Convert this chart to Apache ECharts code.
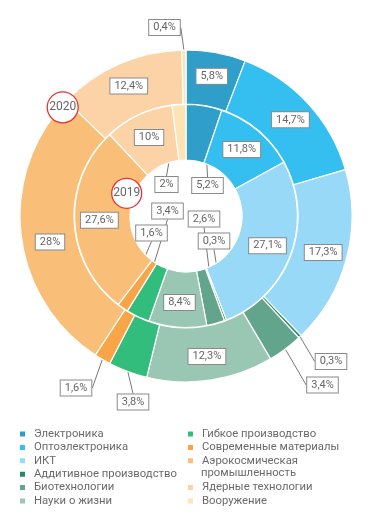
<!DOCTYPE html>
<html>
<head>
<meta charset="utf-8">
<script src="https://cdn.jsdelivr.net/npm/echarts@6/dist/echarts.min.js"></script>
<style>
html,body{margin:0;padding:0;background:#fff;}
#c{width:371px;height:523px;}
</style>
</head>
<body>
<div id="c"></div>
<script>
// ---- data ----
const categories = [
  'Электроника', 'Оптоэлектроника', 'ИКТ', 'Аддитивное производство',
  'Биотехнологии', 'Науки о жизни', 'Гибкое производство',
  'Современные материалы', 'Аэрокосмическая промышленность',
  'Ядерные технологии', 'Вооружение'
];
const values2019 = [5.2, 11.8, 27.1, 0.3, 2.6, 8.4, 3.4, 1.6, 27.6, 10, 2];
const values2020 = [5.8, 14.7, 17.3, 0.3, 3.4, 12.3, 3.8, 1.6, 28, 12.4, 0.4];
const yearLabels = ['2019', '2020'];

// ---- style ----
const colors = ['#2f9ec9', '#34bff0', '#97d9f6', '#2a8a63', '#62a58c', '#9ac6b4',
                '#33bd7d', '#f7a547', '#f9bf79', '#fcd3a6', '#fde4b5'];
const CENTER = [186, 216];
// label placements (box centres) for labels moved out of their sectors
const moved2019 = {0: [207.5, 185.5], 10: [166.5, 184.5], 6: [167.5, 211], 7: [151.5, 233], 4: [204, 219], 3: [214, 241]};
const moved2020 = {10: [164.5, 27.5], 3: [331, 361.5], 4: [322.5, 385], 6: [133, 402], 7: [76, 388], 8: [50, 242]};
const outside2019 = [0, 10, 6, 7, 4, 3];
const outside2020 = [10, 3, 4, 6, 7];

const FONT = 'Roboto';
function fmt(v) { return String(v).replace('.', ',') + '%'; }

// legend shows the aerospace name split over two lines
const aeroWords = categories[8].split(' ');

function buildData(values, outsideIdx) {
  return values.map((v, i) => {
    const out = outsideIdx.indexOf(i) >= 0;
    return {
      name: categories[i],
      value: v,
      itemStyle: { color: colors[i] },
      label: { position: out ? 'outside' : 'inside' },
      labelLine: { show: out }
    };
  });
}

const labelStyle = {
  show: true,
  formatter: p => fmt(p.value),
  color: '#666',
  fontFamily: FONT,
  fontSize: 11,
  lineHeight: 12,
  backgroundColor: '#fff',
  borderColor: '#8a8a8a',
  borderWidth: 1,
  padding: [2, 4, 1, 4]
};
const lineStyle = { length: 6, length2: 0, lineStyle: { color: '#777', width: 1 } };

function layoutFn(moved) {
  return function (p) {
    const m = moved[p.dataIndex];
    if (!m) return {};
    return { x: m[0], y: m[1], align: 'center', verticalAlign: 'middle' };
  };
}

const LEG_FS = 11.3;
const legendText = { color: '#6a6a6a', fontFamily: FONT, fontSize: LEG_FS, lineHeight: 13.4, padding: [0, 0, 0, 3] };
const legendBase = {
  orient: 'vertical', icon: 'rect', itemWidth: 7, itemHeight: 7, itemGap: 0,
  padding: 0, selectedMode: false, textStyle: legendText
};

const option = {
  animation: false,
  color: colors,
  legend: [
    Object.assign({}, legendBase, { left: 18, top: 427.3, data: categories.slice(0, 6) }),
    Object.assign({}, legendBase, { left: 186, top: 427.3, data: categories.slice(6, 8) }),
    Object.assign({}, legendBase, {
      left: 186, top: 454.1, data: [categories[8]],
      formatter: () => aeroWords[0]
    }),
    Object.assign({}, legendBase, { left: 186, top: 480.9, data: categories.slice(9) })
  ],
  series: [
    {
      name: yearLabels[0], type: 'pie', center: CENTER, radius: [56, 111.5],
      startAngle: 90, clockwise: true, avoidLabelOverlap: false,
      itemStyle: { borderColor: '#fff', borderWidth: 1.2 },
      label: labelStyle, labelLine: lineStyle,
      labelLayout: layoutFn(moved2019),
      emphasis: { disabled: true },
      data: buildData(values2019, outside2019)
    },
    {
      name: yearLabels[1], type: 'pie', center: CENTER, radius: [112, 166],
      startAngle: 90, clockwise: true, avoidLabelOverlap: false,
      itemStyle: { borderColor: '#fff', borderWidth: 1.2 },
      label: labelStyle, labelLine: lineStyle,
      labelLayout: layoutFn(moved2020),
      emphasis: { disabled: true },
      data: buildData(values2020, outside2020)
    }
  ],
  graphic: [
    { type: 'text', left: 201, top: 467.5, z: 100,
      style: { text: aeroWords[1], fontFamily: FONT, fontSize: LEG_FS, fill: '#6a6a6a' } },
    { type: 'circle', x: 62.7, y: 107.3, z: 100, shape: { r: 15.5 },
      style: { fill: '#fff', stroke: '#e8312f', lineWidth: 1.3 } },
    { type: 'text', x: 62.7, y: 107.3, z: 101,
      style: { text: yearLabels[1], fontFamily: FONT, fontSize: 12, fill: '#666', align: 'center', verticalAlign: 'middle' } },
    { type: 'circle', x: 126.7, y: 193.3, z: 100, shape: { r: 15 },
      style: { fill: '#fff', stroke: '#e8312f', lineWidth: 1.3 } },
    { type: 'text', x: 126.7, y: 193.3, z: 101,
      style: { text: yearLabels[0], fontFamily: FONT, fontSize: 12, fill: '#666', align: 'center', verticalAlign: 'middle' } }
  ]
};

const chart = echarts.init(document.getElementById('c'), null, { renderer: 'canvas' });
chart.setOption(option);
</script>
</body>
</html>
